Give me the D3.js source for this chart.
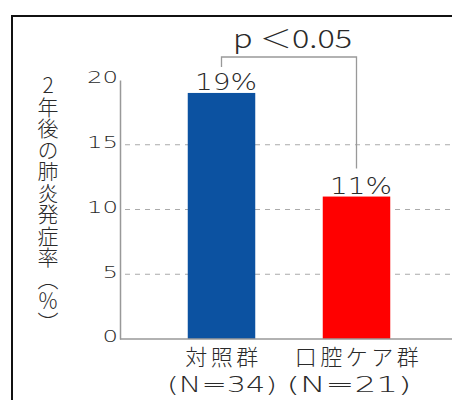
<!DOCTYPE html>
<html><head><meta charset="utf-8">
<script src="https://cdn.jsdelivr.net/npm/d3@7"></script>
<style>
html,body{margin:0;padding:0;background:#fff;}
svg{display:block;}
text{font-family:"Noto Sans CJK JP","Noto Sans",sans-serif;fill:#2a2a2a;}
.num{font-family:"DejaVu Sans",sans-serif;font-weight:200;}
.cjk{font-weight:300;}
</style></head>
<body>
<script>
const categories = ["対照群", "口腔ケア群"];
const sampleLabels = ["(N=34)", "(N=21)"];
const values = [19, 11];
const valueLabels = ["19%", "11%"];
const colors = ["#0C52A1", "#FF0000"];
const yTicks = [0, 5, 10, 15, 20];
const gridTicks = [5, 10, 15];
const yTitle = "2年後の肺炎発症率（％）";
const pLabel = "p ＜0.05";

const W = 452, H = 400;
const svg = d3.select("body").append("svg").attr("width", W).attr("height", H);

// frame
svg.append("rect").attr("x", 12).attr("y", 16).attr("width", 460).attr("height", 420)
  .attr("fill", "none").attr("stroke", "#111").attr("stroke-width", 2);

const y = d3.scaleLinear().domain([0, 20]).range([339, 80]);
const x = d3.scaleBand().domain(categories).range([154, 424]).paddingInner(0.5).paddingOuter(0.25);
const cx = d => x(d) + x.bandwidth() / 2;

// gridlines
svg.append("g").selectAll("line").data(gridTicks).join("line")
  .attr("x1", 121).attr("x2", W).attr("y1", d => y(d)).attr("y2", d => y(d))
  .attr("stroke", "#aaa").attr("stroke-width", 1.2).attr("stroke-dasharray", "5,5")
  .attr("stroke-dashoffset", -4);

// bars
svg.append("g").selectAll("rect").data(values).join("rect")
  .attr("x", (d, i) => x(categories[i]))
  .attr("width", x.bandwidth())
  .attr("y", d => y(d))
  .attr("height", d => y(0) - y(d))
  .attr("fill", (d, i) => colors[i]);

// axes
const yAxis = svg.append("g").attr("transform", "translate(120,0)")
  .call(d3.axisLeft(y).tickValues(yTicks).tickSize(0).tickPadding(0).tickFormat(d3.format("d")));
yAxis.select(".domain").attr("stroke", "#999").attr("stroke-width", 1.5);
yAxis.selectAll("text").attr("x", -2).attr("dy", "0.18em")
  .attr("class", "num").attr("font-size", 16).attr("font-family", null)
  .attr("textLength", d => String(d).length * 15.5).attr("lengthAdjust", "spacingAndGlyphs")
  .attr("fill", "#2a2a2a");

svg.append("line").attr("x1", 120).attr("x2", W).attr("y1", y(0)).attr("y2", y(0))
  .attr("stroke", "#999").attr("stroke-width", 1.5);

// value labels
svg.append("g").selectAll("text").data(values).join("text")
  .attr("class", "num")
  .attr("x", (d, i) => cx(categories[i]) + 4.5)
  .attr("y", d => y(d) - 3)
  .attr("text-anchor", "middle")
  .attr("font-size", 23)
  .attr("textLength", 62).attr("lengthAdjust", "spacingAndGlyphs")
  .text((d, i) => valueLabels[i]);

// category labels
svg.append("g").selectAll("text").data(categories).join("text")
  .attr("class", "cjk")
  .attr("text-anchor", "middle")
  .attr("x", d => cx(d) + 2)
  .attr("y", 365).attr("font-size", 22).attr("letter-spacing", 3.5)
  .text(d => d);
// sample-size labels
svg.append("g").selectAll("text").data(sampleLabels).join("text")
  .attr("class", "num")
  .attr("text-anchor", "middle")
  .attr("x", (d, i) => cx(categories[i]) + (i ? -7.5 : 0.5))
  .attr("y", 391.5).attr("font-size", 21)
  .attr("textLength", (d, i) => i ? 125 : 110).attr("lengthAdjust", "spacingAndGlyphs")
  .text(d => d);

// significance bracket
const xa = cx(categories[0]), xb = cx(categories[1]);
svg.append("path")
  .attr("d", d3.line()([[xa, y(values[0]) - 26], [xa, 57], [xb, 57], [xb, y(values[1]) - 28]]))
  .attr("fill", "none").attr("stroke", "#999").attr("stroke-width", 1.3);
svg.append("text").attr("class", "cjk")
  .attr("x", 233).attr("y", 48)
  .attr("font-size", 25)
  .attr("textLength", 119).attr("lengthAdjust", "spacingAndGlyphs")
  .text(pLabel);

// y title (vertical)
svg.append("text").attr("class", "cjk").attr("x", 48).attr("y", 75)
  .style("writing-mode", "vertical-rl").style("text-orientation", "upright")
  .attr("font-size", 21).attr("letter-spacing", 0.5)
  .text(yTitle);
</script>
</body></html>
